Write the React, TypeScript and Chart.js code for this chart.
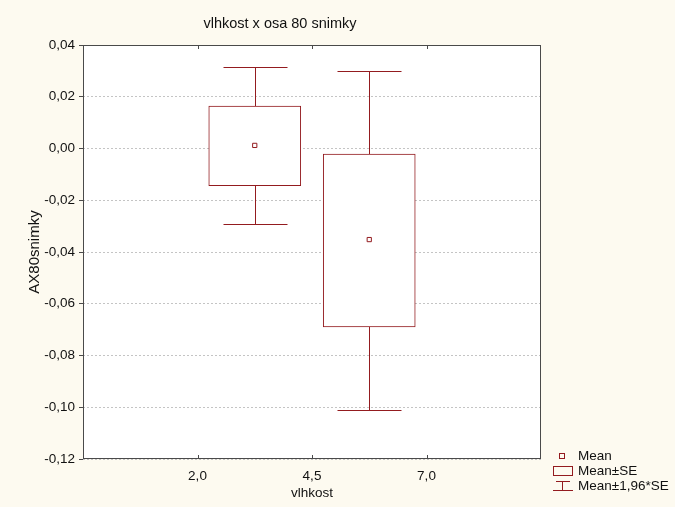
import React, { useEffect, useRef } from "react";
import { Chart, registerables } from "chart.js";

Chart.register(...registerables);

// Group positions on the vlhkost axis and their summary statistics
const groupX = [3.25, 5.75];
const meanValues = [0.0012, -0.0352];
const seLower = [-0.0144, -0.069];
const seUpper = [0.0164, -0.0022];
const ciLower = [-0.029, -0.101];
const ciUpper = [0.0314, 0.03];

// Axis ticks
const xTickValues = [2.0, 4.5, 7.0];
const yMin = -0.12;
const yMax = 0.04;
const yStep = 0.02;

const titleText = "vlhkost x osa 80 snimky";
const xTitle = "vlhkost";
const yTitle = "AX80snimky";
const legendLabels = ["Mean", "Mean±SE", "Mean±1,96*SE"];

const RED = "#931b1f";
const PAPER = "#fdfaf0";
const FRAME = "#4a4a4a";
const FONT = "Liberation Sans, Arial, sans-serif";
const TEXT_SIZE = 13.5;

const comma = (v: number, d: number) => {
  const x = Math.abs(v) < 1e-9 ? 0 : v;
  return x.toFixed(d).replace(".", ",");
};

const decorPlugin = {
  id: "decor",
  beforeDraw(chart: any) {
    const { ctx, chartArea: a, width, height } = chart;
    ctx.save();
    ctx.fillStyle = PAPER;
    ctx.fillRect(0, 0, width, height);
    ctx.fillStyle = "#ffffff";
    ctx.fillRect(a.left, a.top, a.right - a.left, a.bottom - a.top);
    ctx.restore();
  },
  beforeDatasetsDraw(chart: any) {
    // error whiskers: mean±1,96*SE beyond the SE box
    const { ctx, scales } = chart;
    const xs = scales.x;
    const ys = scales.y;
    ctx.save();
    ctx.strokeStyle = RED;
    ctx.lineWidth = 1;
    const capHalf = 32;
    groupX.forEach((gx, i) => {
      const px = Math.round(xs.getPixelForValue(gx)) + 0.5;
      const yHi = Math.round(ys.getPixelForValue(ciUpper[i])) + 0.5;
      const yLo = Math.round(ys.getPixelForValue(ciLower[i])) + 0.5;
      const ySeHi = ys.getPixelForValue(seUpper[i]);
      const ySeLo = ys.getPixelForValue(seLower[i]);
      ctx.beginPath();
      ctx.moveTo(px, yHi);
      ctx.lineTo(px, ySeHi);
      ctx.moveTo(px, ySeLo);
      ctx.lineTo(px, yLo);
      ctx.moveTo(px - capHalf, yHi);
      ctx.lineTo(px + capHalf, yHi);
      ctx.moveTo(px - capHalf, yLo);
      ctx.lineTo(px + capHalf, yLo);
      ctx.stroke();
    });
    ctx.restore();
  },
  afterDraw(chart: any) {
    const { ctx, chartArea: a, scales } = chart;
    ctx.save();
    // plot frame
    ctx.strokeStyle = FRAME;
    ctx.lineWidth = 1;
    ctx.strokeRect(a.left + 0.5, a.top + 0.5, a.right - a.left - 1, a.bottom - a.top - 1);
    // inward x tick marks on top and bottom edges
    ctx.beginPath();
    xTickValues.forEach((v) => {
      const px = Math.round(scales.x.getPixelForValue(v)) + 0.5;
      ctx.moveTo(px, a.top);
      ctx.lineTo(px, a.top + 4);
      ctx.moveTo(px, a.bottom);
      ctx.lineTo(px, a.bottom - 4);
    });
    ctx.stroke();

    ctx.fillStyle = "#111";
    ctx.textBaseline = "middle";
    // title
    ctx.font = `14.5px ${FONT}`;
    ctx.textAlign = "center";
    ctx.fillText(titleText, 280, 24);
    // axis titles
    ctx.font = `${TEXT_SIZE}px ${FONT}`;
    ctx.fillText(xTitle, (a.left + a.right) / 2, 493);
    ctx.save();
    ctx.font = `15px ${FONT}`;
    ctx.translate(35, (a.top + a.bottom) / 2);
    ctx.rotate(-Math.PI / 2);
    ctx.fillText(yTitle, 0, 0);
    ctx.restore();

    // legend
    ctx.font = `${TEXT_SIZE}px ${FONT}`;
    ctx.strokeStyle = RED;
    ctx.lineWidth = 1;
    ctx.strokeRect(559.5, 453.5, 5, 5);
    ctx.strokeRect(553.5, 466.5, 19, 9);
    ctx.beginPath();
    ctx.moveTo(556, 481.5);
    ctx.lineTo(570, 481.5);
    ctx.moveTo(562.5, 481.5);
    ctx.lineTo(562.5, 490.5);
    ctx.moveTo(553, 490.5);
    ctx.lineTo(573, 490.5);
    ctx.stroke();
    ctx.textAlign = "left";
    ctx.fillText(legendLabels[0], 578, 456.5);
    ctx.fillText(legendLabels[1], 578, 471.5);
    ctx.fillText(legendLabels[2], 578, 486.5);
    ctx.restore();
  },
};

export default function App() {
  const ref = useRef<HTMLCanvasElement | null>(null);

  useEffect(() => {
    if (!ref.current) return;
    const chart = new Chart(ref.current, {
      type: "bar",
      data: {
        datasets: [
          {
            type: "scatter",
            label: legendLabels[0],
            data: groupX.map((x, i) => ({ x, y: meanValues[i] })),
            pointStyle: "rect",
            pointRadius: 3,
            backgroundColor: "#ffffff",
            borderColor: RED,
            borderWidth: 1,
            order: 0,
          } as any,
          {
            type: "bar",
            label: legendLabels[1],
            data: groupX.map((x, i) => ({ x, y: [seLower[i], seUpper[i]] })) as any,
            backgroundColor: "#ffffff",
            borderColor: RED,
            borderWidth: 1,
            borderSkipped: false,
            barThickness: 92,
            order: 1,
          },
        ],
      },
      options: {
        animation: false,
        responsive: false,
        maintainAspectRatio: false,
        events: [],
        layout: { padding: { left: 0, top: 45, right: 134, bottom: 0 } },
        plugins: {
          legend: { display: false },
          title: { display: false },
          tooltip: { enabled: false },
        },
        scales: {
          x: {
            type: "linear",
            min: -0.5,
            max: 9.5,
            offset: false,
            afterBuildTicks: (scale: any) => {
              scale.ticks = xTickValues.map((v) => ({ value: v }));
            },
            afterFit: (scale: any) => {
              scale.height = 48;
            },
            ticks: {
              autoSkip: false,
              maxRotation: 0,
              padding: 9,
              color: "#111",
              font: { family: FONT, size: TEXT_SIZE },
              callback: (v: any) => comma(Number(v), 1),
            },
            grid: { display: false, drawTicks: false, offset: false },
            border: { display: false },
          },
          y: {
            type: "linear",
            min: yMin,
            max: yMax,
            afterFit: (scale: any) => {
              scale.width = 83;
            },
            ticks: {
              stepSize: yStep,
              padding: 4,
              color: "#111",
              font: { family: FONT, size: TEXT_SIZE },
              callback: (v: any) => comma(Number(v), 2),
            },
            grid: {
              color: "#c4c4c4",
              lineWidth: 1,
              drawTicks: true,
              tickLength: 4,
              tickColor: FRAME,
              tickBorderDash: [],
            },
            border: { display: false, dash: [2, 2] },
          },
        },
      },
      plugins: [decorPlugin],
    });
    return () => chart.destroy();
  }, []);

  return (
    <div style={{ position: "fixed", left: 0, top: 0, width: 675, height: 507 }}>
      <canvas ref={ref} width={675} height={507} style={{ width: 675, height: 507, display: "block" }} />
    </div>
  );
}
